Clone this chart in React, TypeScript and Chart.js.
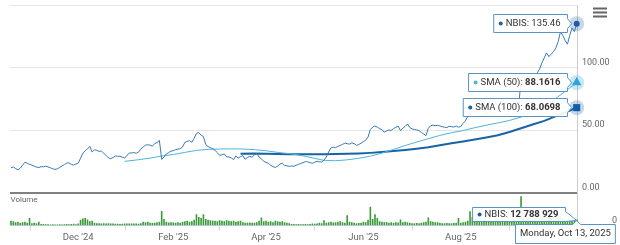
import React, { useEffect, useRef } from "react";
import { Chart, registerables } from "chart.js";

Chart.register(...registerables);

const FONT = "Roboto, 'Liberation Sans', Arial, sans-serif";

// ---- data (one point per trading day, 21 Oct 2024 .. 13 Oct 2025) ----
const PRICE = [
  19.8, 20.5, 19.2, 18.2, 19.5, 22.0, 24.3, 23.5, 22.6, 22.0,
  21.2, 20.4, 20.0, 20.8, 20.6, 21.2, 20.5, 19.8, 19.0, 18.6,
  19.0, 20.2, 21.3, 22.4, 23.6, 23.8, 22.6, 22.0, 22.9, 23.6,
  27.5, 31.5, 33.5, 35.0, 37.0, 32.5, 34.3, 33.8, 33.0, 33.2,
  31.5, 29.8, 27.8, 27.2, 28.0, 29.3, 29.0, 29.1, 28.3, 27.7,
  29.8, 31.6, 31.8, 32.0, 31.5, 32.4, 34.8, 36.5, 38.0, 38.3,
  38.0, 37.2, 39.3, 40.0, 41.8, 26.6, 28.5, 31.0, 32.0, 33.2,
  33.6, 34.4, 34.8, 35.2, 36.5, 40.3, 41.0, 41.6, 40.3, 43.5,
  47.5, 48.0, 46.0, 44.8, 38.5, 36.8, 36.0, 35.2, 33.8, 32.0,
  29.8, 30.2, 31.0, 28.6, 28.5, 27.8, 26.4, 29.4, 27.6, 28.8,
  29.6, 26.6, 28.2, 28.9, 28.4, 30.2, 31.4, 28.5, 27.0, 25.0,
  24.2, 23.4, 21.8, 20.8, 20.1, 21.2, 22.8, 23.6, 21.8, 21.4,
  21.0, 21.3, 21.1, 21.8, 22.6, 23.3, 24.0, 24.8, 24.6, 24.0,
  23.4, 24.2, 25.1, 24.6, 24.5, 26.0, 28.5, 32.5, 35.8, 36.4,
  36.0, 37.0, 37.8, 38.6, 39.6, 39.2, 38.8, 39.8, 39.2, 37.8,
  38.5, 39.6, 40.8, 42.0, 44.5, 50.5, 52.5, 53.4, 52.4, 51.2,
  50.4, 48.4, 49.4, 50.2, 49.8, 51.3, 52.4, 53.2, 49.6, 51.6,
  53.0, 55.0, 52.2, 51.0, 50.6, 50.2, 49.6, 48.2, 47.0, 45.6,
  51.5, 53.6, 54.0, 53.6, 53.9, 53.4, 52.8, 52.4, 52.0, 53.2,
  52.8, 52.5, 53.3, 52.4, 53.0, 55.5, 57.5, 61.0, 66.0, 68.0,
  66.0, 64.0, 66.0, 69.0, 67.0, 63.0, 64.0, 66.0, 69.0, 72.0,
  70.0, 71.0, 74.0, 72.0, 70.0, 69.0, 68.0, 70.0, 69.0, 69.0,
  92.0, 91.0, 90.0, 94.0, 93.0, 92.0, 94.0, 96.0, 99.0, 104.0,
  108.0, 112.0, 109.0, 111.0, 113.0, 116.0, 121.0, 129.0, 126.0, 122.0,
  119.0, 126.0, 132.0, 129.0, 135.46,
];

// volume in millions of shares
const VOLUME = [
  10, 9, 7, 8, 6, 7, 8, 6, 16, 5,
  6, 5, 8, 3, 3, 2.5, 2.5, 2, 2.5, 2,
  2, 2.5, 2, 2.5, 3, 2.5, 3, 3.5, 2.5, 4,
  12, 15, 16, 13, 9, 10, 6, 5, 5, 4.5,
  5, 4.5, 5, 4, 4, 3.5, 3.5, 3, 3.5, 4,
  4.5, 4, 4.5, 4, 4, 3.5, 5, 8, 7, 8,
  6, 5.5, 6, 7, 8, 31, 14, 8, 6.5, 7,
  6.5, 6, 7, 6, 8, 9, 10, 8, 9, 12,
  24, 18, 16, 24, 14, 12, 11, 10, 10, 9,
  11, 10, 9, 11, 10, 9, 10, 8, 9, 10,
  7, 6, 6, 6.5, 6, 6, 7, 10, 17, 9,
  10, 8, 9, 7, 10, 9, 8, 9, 7, 6,
  5, 3, 3, 2.5, 3, 2.5, 2.5, 3, 2.5, 3,
  4, 3.5, 4, 6, 5, 11, 6, 7, 8, 6.5,
  7, 8, 9, 7, 6, 22, 8, 7, 6, 5,
  5.5, 6, 8, 7, 12, 40, 14, 24, 16, 9,
  8, 7, 7.5, 6, 7, 6, 7, 6.5, 13, 7,
  8, 7, 6, 5, 5, 5.5, 5, 6, 7, 8,
  17, 9, 8, 7, 7, 6, 5, 5, 5.5, 5,
  5, 5.5, 6, 16, 6, 7, 8, 10, 30, 18,
  12, 10, 9, 9, 11, 10, 9, 8, 9, 10,
  9, 8, 9, 10, 8, 9, 10, 11, 10, 12,
  62, 32, 20, 18, 15, 14, 16, 18, 20, 22,
  20, 18, 16, 15, 17, 18, 22, 20, 16, 14,
  12, 13, 15, 11, 12.788929,
];

const SMA50_IDX = [49, 55, 60, 65, 70, 75, 80, 85, 90, 95, 100, 105, 110, 115, 120, 125, 130, 135, 140, 145, 150, 155, 160, 165, 170, 175, 180, 185, 190, 195, 200, 205, 210, 215, 220, 225, 230, 235, 240, 244];
const SMA50_VAL = [25.0, 26.3, 27.6, 29.3, 30.5, 32.2, 33.8, 34.6, 34.9, 35.0, 34.9, 34.4, 33.5, 32.2, 31.2, 29.8, 27.8, 25.8, 25.5, 26.2, 27.5, 29.2, 31.6, 34.6, 37.7, 40.5, 43.2, 45.8, 48.0, 49.7, 52.0, 54.0, 55.8, 57.8, 60.5, 64.8, 69.8, 75.5, 82.5, 88.1616];

const SMA100_IDX = [99, 105, 110, 115, 120, 125, 130, 135, 140, 145, 150, 155, 160, 165, 170, 175, 180, 185, 190, 195, 200, 205, 210, 215, 220, 225, 230, 235, 240, 244];
const SMA100_VAL = [31.0, 31.2, 31.1, 30.9, 30.7, 30.6, 30.6, 30.6, 30.8, 31.0, 31.3, 31.8, 32.5, 33.3, 34.2, 35.2, 36.4, 38.0, 39.5, 41.0, 42.5, 44.2, 46.0, 48.5, 51.5, 54.5, 57.5, 61.3, 65.0, 68.0698];

const TICK_IDX = [29, 70, 110, 152, 194];
const TICK_LABELS = ["Dec '24", "Feb '25", "Apr '25", "Jun '25", "Aug '25"];
const PRICE_TICKS = [0, 50, 100, 150];
const VOLUME_TICKS = [0];
const LAST_DATE = "Monday, Oct 13, 2025";
const SYMBOL = "NBIS";

// ---- styles ----
const C_PRICE = "#3a78b5";
const C_SMA50 = "#4db4dc";
const C_SMA100 = "#1763a6";
const C_VOL = "#3a9a3a";
const C_BORDER = "#5a93c4";
const C_TEXT = "#333333";

const fmtVol = (m: number) =>
  Math.round(m * 1e6).toString().replace(/\B(?=(\d{3})+(?!\d))/g, " ");

function callout(ctx: CanvasRenderingContext2D, left: number, top: number, w: number, h: number, tip: { x: number; y: number }) {
  const r = left + w;
  const b = top + h;
  const y1 = Math.max(top, Math.min(tip.y - 5, b - 10));
  const y2 = y1 + 10;
  ctx.beginPath();
  ctx.moveTo(left, top);
  ctx.lineTo(r, top);
  ctx.lineTo(r, y1);
  ctx.lineTo(tip.x, tip.y);
  ctx.lineTo(r, y2);
  ctx.lineTo(r, b);
  ctx.lineTo(left, b);
  ctx.closePath();
  ctx.fillStyle = "rgba(255,255,255,0.92)";
  ctx.fill();
  ctx.strokeStyle = C_BORDER;
  ctx.lineWidth = 1;
  ctx.stroke();
}

function label(ctx: CanvasRenderingContext2D, left: number, cy: number, dot: string, plain: string, bold: string) {
  ctx.fillStyle = dot;
  ctx.beginPath();
  ctx.arc(left + 7, cy, 2, 0, Math.PI * 2);
  ctx.fill();
  ctx.textBaseline = "middle";
  ctx.textAlign = "left";
  ctx.fillStyle = C_TEXT;
  ctx.font = `9.5px ${FONT}`;
  ctx.fillText(plain, left + 12, cy);
  const w = ctx.measureText(plain).width;
  if (bold) {
    ctx.font = `bold 9.5px ${FONT}`;
    ctx.fillText(bold, left + 12 + w, cy);
  }
}

function textWidth(ctx: CanvasRenderingContext2D, plain: string, bold: string) {
  ctx.font = `9.5px ${FONT}`;
  let w = ctx.measureText(plain).width;
  if (bold) {
    ctx.font = `bold 9.5px ${FONT}`;
    w += ctx.measureText(bold).width;
  }
  return w;
}

const lastEl = (chart: any, i: number) => {
  const d = chart.getDatasetMeta(i).data;
  return d[d.length - 1];
};

const overlay = {
  id: "overlay",
  beforeDatasetsDraw(chart: any) {
    const ctx: CanvasRenderingContext2D = chart.ctx;
    const a = chart.chartArea;
    const p = lastEl(chart, 0);
    ctx.save();
    ctx.strokeStyle = "#cccccc";
    ctx.lineWidth = 1;
    const cx = Math.round(p.x) + 0.5;
    ctx.beginPath();
    ctx.moveTo(cx, a.top);
    ctx.lineTo(cx, a.bottom);
    ctx.stroke();
    const halos: [number, string][] = [
      [0, "rgba(40,100,165,0.25)"],
      [1, "rgba(60,170,215,0.28)"],
      [2, "rgba(30,100,170,0.25)"],
    ];
    halos.forEach(([i, c]) => {
      const el = lastEl(chart, i);
      ctx.fillStyle = c;
      ctx.beginPath();
      ctx.arc(el.x, el.y, 7.5, 0, Math.PI * 2);
      ctx.fill();
    });
    ctx.restore();
  },
  afterDraw(chart: any) {
    const ctx: CanvasRenderingContext2D = chart.ctx;
    ctx.save();
    // "Volume" pane title
    ctx.font = `8px ${FONT}`;
    ctx.fillStyle = "#666666";
    ctx.textBaseline = "middle";
    ctx.textAlign = "left";
    ctx.fillText("Volume", 10.5, 200);

    // menu icon
    ctx.fillStyle = "#666666";
    [7.5, 11.5, 15.5].forEach((y) => ctx.fillRect(593, y, 14, 2));

    const n = PRICE.length;
    const items = [
      { ds: 0, dot: "#1f5f9e", plain: `${SYMBOL}: ${PRICE[n - 1].toFixed(2)}`, bold: "" },
      { ds: 1, dot: C_SMA50, plain: "SMA (50): ", bold: SMA50_VAL[SMA50_VAL.length - 1].toFixed(4) },
      { ds: 2, dot: C_SMA100, plain: "SMA (100): ", bold: SMA100_VAL[SMA100_VAL.length - 1].toFixed(4) },
    ];
    items.forEach((it) => {
      const el = lastEl(chart, it.ds);
      const w = 12 + textWidth(ctx, it.plain, it.bold) + 7;
      const right = Math.round(el.x - 10) + 0.5;
      const top = Math.round(el.y - 9.5) + 0.5;
      callout(ctx, right - w, top, w, 18, { x: el.x - 5, y: el.y });
      label(ctx, right - w, top + 9, it.dot, it.plain, it.bold);
    });

    // volume tooltip
    const v = lastEl(chart, 3);
    {
      const plain = `${SYMBOL}: `;
      const bold = fmtVol(VOLUME[VOLUME.length - 1]);
      const w = 12 + textWidth(ctx, plain, bold) + 7;
      const right = Math.round(v.x - 12) + 0.5;
      const top = 207.5;
      callout(ctx, right - w, top, w, 14, { x: v.x, y: v.y + 1 });
      label(ctx, right - w, top + 7, "#1f5f9e", plain, bold);
    }

    // date label on the x axis
    {
      ctx.font = `9.5px ${FONT}`;
      const w = ctx.measureText(LAST_DATE).width + 9;
      const right = Math.min(v.x + w / 2, 615);
      const left = Math.round(right - w) + 0.5;
      const top = 224.5;
      const h = 19;
      const px = v.x;
      ctx.beginPath();
      ctx.moveTo(left, top);
      ctx.lineTo(px - 4, top);
      ctx.lineTo(px, top - 4);
      ctx.lineTo(px + 4, top);
      ctx.lineTo(left + w, top);
      ctx.lineTo(left + w, top + h);
      ctx.lineTo(left, top + h);
      ctx.closePath();
      ctx.fillStyle = "rgba(255,255,255,0.95)";
      ctx.fill();
      ctx.strokeStyle = C_BORDER;
      ctx.lineWidth = 1;
      ctx.stroke();
      ctx.fillStyle = C_TEXT;
      ctx.textBaseline = "middle";
      ctx.textAlign = "left";
      ctx.fillText(LAST_DATE, left + 4.5, top + 9);
    }
    ctx.restore();
  },
};

export default function App() {
  const ref = useRef<HTMLCanvasElement>(null);
  useEffect(() => {
    document.body.style.margin = "0";
    const n = PRICE.length;
    const lastOnly = (r: number, len: number) => (c: any) => (c.dataIndex === len - 1 ? r : 0);
    const chart = new Chart(ref.current as HTMLCanvasElement, {
      type: "line",
      data: {
        datasets: [
          {
            label: SYMBOL,
            data: PRICE.map((y, i) => ({ x: i, y })),
            yAxisID: "y",
            borderColor: C_PRICE,
            borderWidth: 1,
            pointRadius: lastOnly(3, n),
            pointStyle: "circle",
            pointBackgroundColor: "#1f5f9e",
            pointBorderWidth: 0,
            tension: 0,
            clip: false,
            order: 0,
          },
          {
            label: "SMA (50)",
            data: SMA50_IDX.map((x, i) => ({ x, y: SMA50_VAL[i] })),
            yAxisID: "y",
            borderColor: C_SMA50,
            borderWidth: 1,
            pointRadius: lastOnly(5.5, SMA50_IDX.length),
            pointStyle: "triangle",
            pointBackgroundColor: "#2ea6d6",
            pointBorderWidth: 0,
            tension: 0,
            clip: false,
            order: 1,
          },
          {
            label: "SMA (100)",
            data: SMA100_IDX.map((x, i) => ({ x, y: SMA100_VAL[i] })),
            yAxisID: "y",
            borderColor: C_SMA100,
            borderWidth: 2,
            pointRadius: lastOnly(5, SMA100_IDX.length),
            pointStyle: "rect",
            pointBackgroundColor: "#0f5ea5",
            pointBorderWidth: 0,
            tension: 0,
            clip: false,
            order: 2,
          },
          {
            type: "bar",
            label: "Volume",
            data: VOLUME.map((y, i) => ({ x: i, y })),
            yAxisID: "y2",
            backgroundColor: C_VOL,
            barPercentage: 0.7,
            categoryPercentage: 1,
            order: 3,
          } as any,
        ],
      },
      options: {
        responsive: false,
        animation: false,
        events: [],
        layout: { padding: { top: 2, left: 10, right: 0, bottom: 0 } },
        plugins: { legend: { display: false }, tooltip: { enabled: false } },
        scales: {
          x: {
            type: "linear",
            min: -0.43,
            max: 244.56,
            offset: false,
            afterBuildTicks: (s: any) => {
              s.ticks = TICK_IDX.map((value) => ({ value }));
            },
            afterFit: (s: any) => {
              s.height = 19.5;
              s.paddingLeft = 0;
              s.paddingRight = 0;
            },
            ticks: {
              autoSkip: false,
              maxRotation: 0,
              minRotation: 0,
              padding: 1,
              color: "#666666",
              font: { family: FONT, size: 9.5 },
              callback: (v: any) => {
                const k = TICK_IDX.indexOf(Number(v));
                return k >= 0 ? TICK_LABELS[k] : "";
              },
            },
            grid: { display: true, drawOnChartArea: false, drawTicks: true, tickLength: 5, color: "#ccd6eb" },
            border: { display: true, color: "#ccd6eb" },
          },
          y: {
            type: "linear",
            position: "right",
            stack: "panes",
            stackWeight: 190,
            min: 0,
            max: 150,
            afterBuildTicks: (s: any) => {
              s.ticks = PRICE_TICKS.map((value) => ({ value }));
            },
            afterFit: (s: any) => {
              s.width = 42;
              s.paddingTop = 0;
              s.paddingBottom = 0;
            },
            ticks: {
              padding: 4,
              labelOffset: -5,
              color: "#666666",
              font: { family: FONT, size: 9 },
              callback: (v: any) => (Number(v) === 150 ? "" : Number(v).toFixed(2)),
            },
            grid: {
              drawTicks: false,
              color: (c: any) => (c.tick && c.tick.value === 0 ? "#808080" : "#e6e6e6"),
              lineWidth: (c: any) => (c.tick && c.tick.value === 0 ? 2 : 1),
            },
            border: { display: false },
          },
          y2: {
            type: "linear",
            position: "right",
            stack: "panes",
            stackWeight: 33.5,
            min: 0,
            max: 70,
            afterBuildTicks: (s: any) => {
              s.ticks = VOLUME_TICKS.map((value) => ({ value }));
            },
            afterFit: (s: any) => {
              s.width = 42;
              s.paddingTop = 0;
              s.paddingBottom = 0;
            },
            ticks: {
              padding: 26,
              labelOffset: -5,
              color: "#666666",
              font: { family: FONT, size: 9 },
              callback: (v: any) => String(v),
            },
            grid: { display: false },
            border: { display: false },
          },
        },
      } as any,
      plugins: [overlay],
    });
    return () => chart.destroy();
  }, []);
  return (
    <div style={{ width: 620, height: 245 }}>
      <canvas ref={ref} width={620} height={245} style={{ display: "block" }} />
    </div>
  );
}
